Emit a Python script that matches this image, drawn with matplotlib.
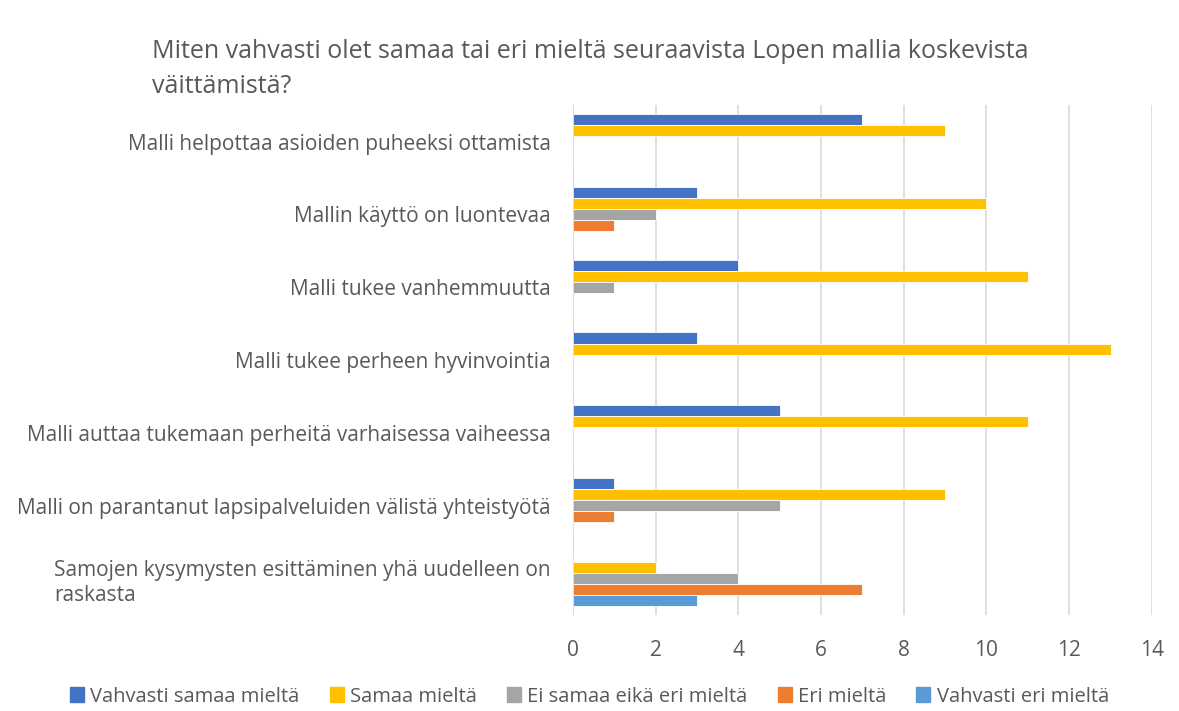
import numpy as np
import matplotlib.pyplot as plt
from matplotlib.patches import Patch

plt.rcParams['font.family'] = ['Open Sans', 'DejaVu Sans']

# väittämät (ylhäältä alas)
categories = [
    'Malli helpottaa asioiden puheeksi ottamista',
    'Mallin käyttö on luontevaa',
    'Malli tukee vanhemmuutta',
    'Malli tukee perheen hyvinvointia',
    'Malli auttaa tukemaan perheitä varhaisessa vaiheessa',
    'Malli on parantanut lapsipalveluiden välistä yhteistyötä',
    'Samojen kysymysten esittäminen yhä uudelleen on\nraskasta',
]

series_names = ['Vahvasti samaa mieltä', 'Samaa mieltä', 'Ei samaa eikä eri mieltä',
                'Eri mieltä', 'Vahvasti eri mieltä']

vahvasti_samaa = [7, 3, 4, 3, 5, 1, 0]
samaa = [9, 10, 11, 13, 11, 9, 2]
ei_samaa_eika_eri = [0, 2, 1, 0, 0, 5, 4]
eri = [0, 1, 0, 0, 0, 1, 7]
vahvasti_eri = [0, 0, 0, 0, 0, 0, 3]

colors = ['#4472C4', '#FFC000', '#A5A5A5', '#ED7D31', '#5B9BD5']
text_color = '#595959'

x_ticks = [0, 2, 4, 6, 8, 10, 12, 14]

fig = plt.figure(figsize=(11.79, 7.11), dpi=100)
ax = fig.add_axes([0.486, 0.135, 0.491, 0.717])

values = [vahvasti_samaa, samaa, ei_samaa_eika_eri, eri, vahvasti_eri]
n = len(categories)
pos = np.arange(n)
bar_h = 0.152
for i, (vals, c) in enumerate(zip(values, colors)):
    y = pos + (i - 2) * bar_h
    ax.barh(y, vals, height=bar_h, color=c, edgecolor='white', linewidth=0.6, zorder=3)

ax.set_ylim(n - 0.5, -0.5)
ax.set_xlim(0, 14)
ax.set_xticks(x_ticks)
ax.set_yticks(pos)
labels = ax.set_yticklabels(categories, fontsize=15, color=text_color, linespacing=1.25)
labels[-1].set_multialignment('left')
ax.tick_params(axis='x', labelsize=15, colors=text_color, length=0, pad=18)
ax.tick_params(axis='y', length=0, pad=16)

ax.grid(axis='x', color='#D9D9D9', linewidth=1.2, zorder=0)
ax.axvline(0, color='#D9D9D9', linewidth=1.2, zorder=4)
for s in ax.spines.values():
    s.set_visible(False)

fig.text(0.129, 0.903, 'Miten vahvasti olet samaa tai eri mieltä seuraavista Lopen mallia koskevista\nväittämistä?',
         fontsize=18, color=text_color, ha='left', va='center', linespacing=1.55)

handles = [Patch(color=c, label=s) for s, c in zip(series_names, colors)]
fig.legend(handles=handles, loc='center', bbox_to_anchor=(0.5, 0.02), ncol=5, frameon=False,
           fontsize=14.5, labelcolor=text_color, handlelength=0.7, handleheight=0.8,
           handletextpad=0.3, columnspacing=1.5)

plt.savefig('out.png', dpi=100)
